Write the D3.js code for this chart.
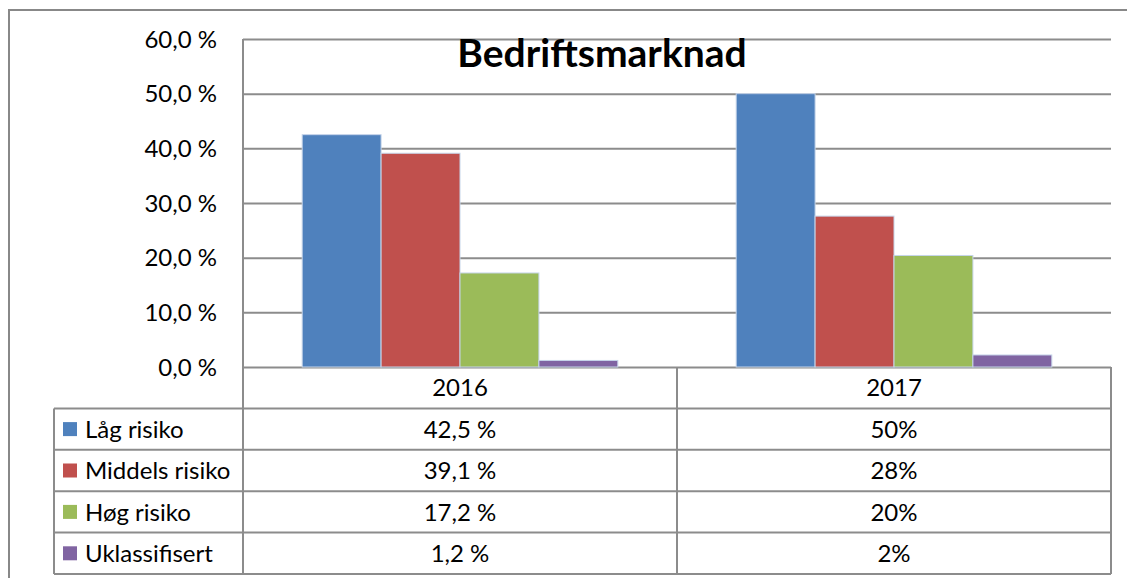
<!DOCTYPE html>
<html lang="no">
<head>
<meta charset="UTF-8">
<title>Bedriftsmarknad</title>
<script src="https://d3js.org/d3.v7.min.js"></script>
<style>
  body { margin: 0; background: #fff; }
  text { font-family: Lato, "Open Sans", sans-serif; fill: #000; }
</style>
</head>
<body>
<svg id="chart" width="1127" height="578"></svg>
<script>
// data
var years = ["2016", "2017"];
var series = ["Låg risiko", "Middels risiko", "Høg risiko", "Uklassifisert"];
var colors = ["#4f81bd", "#c0504d", "#9bbb59", "#8064a2"];
var values2016 = [42.5, 39.1, 17.2, 1.2];
var values2017 = [50.0, 27.6, 20.4, 2.2];
var labels2016 = ["42,5 %", "39,1 %", "17,2 %", "1,2 %"];
var labels2017 = ["50%", "28%", "20%", "2%"];
var yTicks = [0, 10, 20, 30, 40, 50, 60];

var svg = d3.select("#chart");
var gridColor = "#8c8c8c";
var fontSize = "24px";

// plot box
var plotLeft = 243, plotRight = 1111, plotTop = 39, plotBottom = 367;
var rowH = 41.4;
var tableLeft = 54;
var tableBottom = plotBottom + rowH * 5;

var x = d3.scaleBand().domain(years).range([plotLeft, plotRight]);
var xInner = d3.scaleBand().domain(series).range([0, x.bandwidth()]).paddingOuter(0.75).paddingInner(0);
var y = d3.scaleLinear().domain([0, 60]).range([plotBottom, plotTop]);

// outer frame
svg.append("path")
  .attr("d", "M9,578 V10 H1127")
  .attr("fill", "none").attr("stroke", "#888").attr("stroke-width", 2);

// gridlines
svg.append("g")
  .attr("transform", "translate(" + plotLeft + ",0)")
  .call(d3.axisLeft(y).tickValues(yTicks).tickSize(-(plotRight - plotLeft)).tickFormat(""))
  .call(function (g) {
    g.select(".domain").remove();
    g.selectAll("line").attr("stroke", gridColor).attr("stroke-width", 2);
  });

// y labels
svg.append("g")
  .selectAll("text")
  .data(yTicks)
  .enter().append("text")
  .attr("x", 217)
  .attr("y", function (d) { return y(d); })
  .attr("dy", "0.36em")
  .attr("text-anchor", "end")
  .style("font-size", fontSize)
  .text(function (d) { return d.toFixed(1).replace(".", ",") + " %"; });

// bars
var rows = years.map(function (yr, i) {
  var vals = i === 0 ? values2016 : values2017;
  return series.map(function (s, j) { return { year: yr, name: s, value: vals[j], color: colors[j] }; });
});

svg.append("g")
  .selectAll("g")
  .data(rows)
  .enter().append("g")
  .attr("transform", function (d) { return "translate(" + x(d[0].year) + ",0)"; })
  .selectAll("rect")
  .data(function (d) { return d; })
  .enter().append("rect")
  .attr("x", function (d) { return xInner(d.name); })
  .attr("y", function (d) { return y(d.value); })
  .attr("width", xInner.bandwidth())
  .attr("height", function (d) { return y(0) - y(d.value); })
  .attr("fill", function (d) { return d.color; })
  .attr("stroke", "#c6d5ea")
  .attr("stroke-width", 1);

// data table lines
var table = svg.append("g").attr("stroke", gridColor).attr("stroke-width", 2).attr("fill", "none");
table.append("line").attr("x1", plotLeft).attr("x2", plotLeft).attr("y1", plotTop).attr("y2", tableBottom);
table.append("line").attr("x1", x("2017")).attr("x2", x("2017")).attr("y1", plotBottom).attr("y2", tableBottom);
table.append("line").attr("x1", plotRight).attr("x2", plotRight).attr("y1", plotBottom).attr("y2", tableBottom);
table.append("line").attr("x1", tableLeft).attr("x2", tableLeft).attr("y1", plotBottom + rowH).attr("y2", tableBottom);
d3.range(1, 6).forEach(function (r) {
  table.append("line")
    .attr("x1", tableLeft).attr("x2", plotRight)
    .attr("y1", plotBottom + rowH * r).attr("y2", plotBottom + rowH * r);
});

// header row
svg.append("g")
  .selectAll("text")
  .data(years)
  .enter().append("text")
  .attr("x", function (d) { return x(d) + x.bandwidth() / 2; })
  .attr("y", plotBottom + rowH / 2)
  .attr("dy", "0.36em")
  .attr("text-anchor", "middle")
  .style("font-size", fontSize)
  .text(function (d) { return d; });

// legend cells
var legend = svg.append("g")
  .selectAll("g")
  .data(series)
  .enter().append("g")
  .attr("transform", function (d, i) { return "translate(0," + (plotBottom + rowH * (i + 1.5)) + ")"; });

legend.append("rect")
  .attr("x", 63).attr("y", -7).attr("width", 14).attr("height", 14)
  .attr("fill", function (d, i) { return colors[i]; });

legend.append("text")
  .attr("x", 85).attr("dy", "0.36em")
  .style("font-size", fontSize)
  .text(function (d) { return d; });

// value cells
[labels2016, labels2017].forEach(function (labels, c) {
  svg.append("g")
    .selectAll("text")
    .data(labels)
    .enter().append("text")
    .attr("x", x(years[c]) + x.bandwidth() / 2)
    .attr("y", function (d, i) { return plotBottom + rowH * (i + 1.5); })
    .attr("dy", "0.36em")
    .attr("text-anchor", "middle")
    .style("font-size", fontSize)
    .text(function (d) { return d; });
});

// title
svg.append("text")
  .attr("x", 602)
  .attr("y", 67)
  .attr("text-anchor", "middle")
  .style("font-size", "39px")
  .style("font-weight", "bold")
  .text("Bedriftsmarknad");
</script>
</body>
</html>
